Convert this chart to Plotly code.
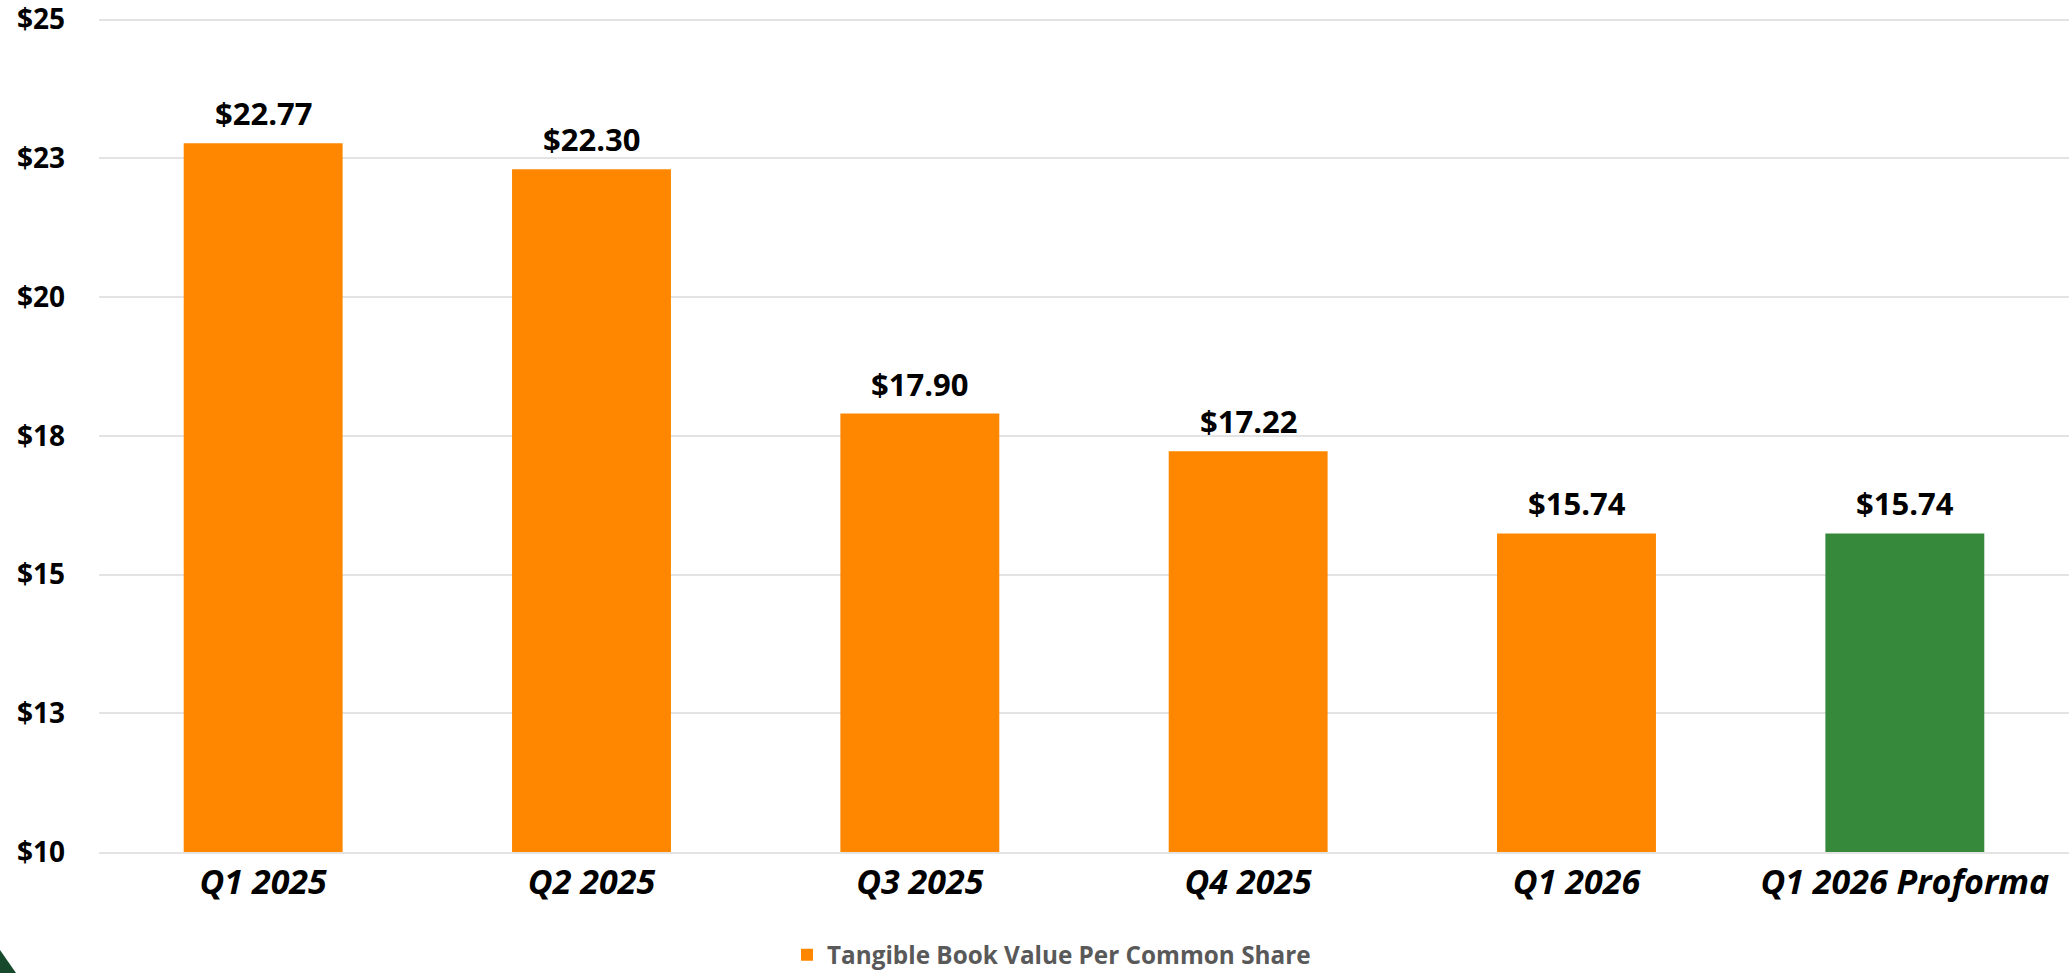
import plotly.graph_objects as go

categories = ["Q1 2025", "Q2 2025", "Q3 2025", "Q4 2025", "Q1 2026", "Q1 2026 Proforma"]
values = [22.77, 22.30, 17.90, 17.22, 15.74, 15.74]
bar_colors = ["#FF8700", "#FF8700", "#FF8700", "#FF8700", "#FF8700", "#36883A"]
series_name = "Tangible Book Value Per Common Share"
y_tickvals = [10, 12.5, 15, 17.5, 20, 22.5, 25]
y_ticktext = ["$10", "$13", "$15", "$18", "$20", "$23", "$25"]

W, H = 2071, 973
ML, MR, MT, MB = 99, 2, 18, 121
plot_w = W - ML - MR
plot_h = H - MT - MB
PX_PER_UNIT = 55.5
y_top = 10 + plot_h / PX_PER_UNIT

FONT = "Open Sans"

fig = go.Figure()
fig.add_trace(go.Bar(
    x=categories[:5], y=values[:5], name=series_name,
    marker=dict(color=bar_colors[:5], line=dict(width=0)),
    showlegend=True, hoverinfo="x+y",
))
fig.add_trace(go.Bar(
    x=categories[5:], y=values[5:], name="Proforma",
    marker=dict(color=bar_colors[5:], line=dict(width=0)),
    showlegend=False, hoverinfo="x+y",
))

for c, v in zip(categories, values):
    fig.add_annotation(
        x=c, y=v, text=f"<b>${v:.2f}</b>", showarrow=False,
        yanchor="bottom", xanchor="center", yshift=7,
        font=dict(family=FONT, size=31, color="#000000"),
    )

# decorative slide corner (pixel coords -> paper coords)
def px_to_paper(px, py):
    return (px - ML) / plot_w, (H - MB - py) / plot_h

p1 = px_to_paper(0, 950)
p2 = px_to_paper(16, 973)
p3 = px_to_paper(0, 973)
fig.add_shape(
    type="path", xref="paper", yref="paper",
    path=f"M {p1[0]} {p1[1]} L {p2[0]} {p2[1]} L {p3[0]} {p3[1]} Z",
    fillcolor="#174A2C", line=dict(width=0), layer="above",
)

fig.update_layout(
    width=W, height=H,
    margin=dict(l=ML, r=MR, t=MT, b=MB, pad=0, autoexpand=False),
    paper_bgcolor="white", plot_bgcolor="white",
    bargap=0.516, barmode="overlay",
    font=dict(family=FONT, color="#000000"),
    showlegend=True,
    legend=dict(
        orientation="h", x=(787 - ML) / plot_w, xanchor="left",
        y=(H - MB - 955) / plot_h, yanchor="middle",
        font=dict(family=FONT, size=24.3, color="#595959", weight="bold"),
        bgcolor="rgba(0,0,0,0)",
    ),
    xaxis=dict(
        type="category", categoryorder="array", categoryarray=categories,
        showgrid=False, showline=True, linecolor="#E3E3E3", linewidth=2,
        ticks="", ticklabelstandoff=-1, automargin=False,
        tickfont=dict(family=FONT, size=34, color="#000000", weight="bold", style="italic"),
        zeroline=False,
    ),
    yaxis=dict(
        range=[10, y_top], tickvals=y_tickvals, ticktext=y_ticktext,
        showgrid=True, gridcolor="#E3E3E3", gridwidth=2,
        zeroline=False, showline=False, ticks="", ticklabelstandoff=33, automargin=False,
        ticklabeloverflow="allow",
        tickfont=dict(family=FONT, size=28, color="#000000", weight="bold"),
    ),
)

fig.write_html(
    "out.html",
    config={"displayModeBar": False},
    post_script="document.body.style.margin='0';document.body.style.padding='0';",
)
